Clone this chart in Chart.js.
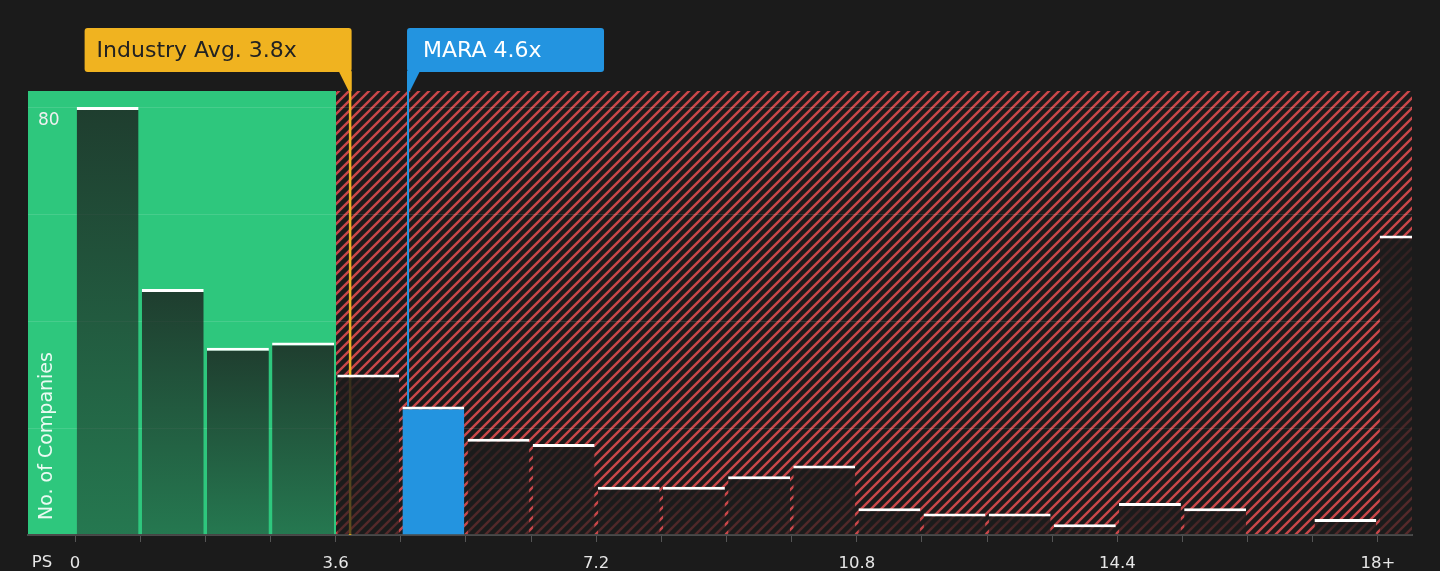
<!DOCTYPE html>
<html>
<head>
<meta charset="utf-8">
<script src="https://cdn.jsdelivr.net/npm/chart.js@4"></script>
<style>
html,body{margin:0;padding:0;background:#1b1b1b;overflow:hidden;}
#wrap{width:1440px;height:571px;position:relative;}
</style>
</head>
<body>
<div id="wrap"><canvas id="c"></canvas></div>
<script>
// ---- data ----
const binCenters = [0.45, 1.35, 2.25, 3.15, 4.05, 4.95, 5.85, 6.75, 7.65, 8.55, 9.45, 10.35, 11.25, 12.15, 13.05, 13.95, 14.85, 15.75, 16.65, 17.55, 18.45];
const companyCounts = [80, 46, 35, 36, 30, 24, 18, 17, 9, 9, 11, 13, 5, 4, 4, 2, 6, 5, 0, 3, 56];
const xTickValues = [0, 0.9, 1.8, 2.7, 3.6, 4.5, 5.4, 6.3, 7.2, 8.1, 9, 9.9, 10.8, 11.7, 12.6, 13.5, 14.4, 15.3, 16.2, 17.1, 18];
const xTickLabels = ['0', '', '', '', '3.6', '', '', '', '7.2', '', '', '', '10.8', '', '', '', '14.4', '', '', '', '18+'];
const yTickValues = [0, 20, 40, 60, 80];
const yTickLabels = ['', '', '', '', '80'];
const industryAvg = 3.8;
const industryLabel = 'Industry Avg. 3.8x';
const companyValue = 4.6;
const companyLabel = 'MARA 4.6x';
const companyBinIndex = 5;
const fairZoneEnd = 3.6;
const xMin = -0.65, xMax = 18.47, yMax = 83;

// ---- styles ----
const BG = '#1b1b1b';
const GREEN = '#2ec77d';
const HATCH = '#c9474a';
const ORANGE = '#f0b320';
const BLUE = '#2394e0';
const FONT = "'DejaVu Sans', sans-serif";

function hatchPattern(ctx) {
  const p = 10;
  const t = document.createElement('canvas');
  t.width = p; t.height = p;
  const c = t.getContext('2d');
  c.fillStyle = BG; c.fillRect(0, 0, p, p);
  c.strokeStyle = HATCH; c.lineWidth = 2.4;
  c.beginPath();
  c.moveTo(-1, p + 1); c.lineTo(p + 1, -1);
  c.moveTo(-2, 2); c.lineTo(2, -2);
  c.moveTo(p - 2, p + 2); c.lineTo(p + 2, p - 2);
  c.stroke();
  return ctx.createPattern(t, 'repeat');
}

function roundRect(ctx, x, y, w, h, r) {
  ctx.beginPath();
  ctx.moveTo(x + r, y);
  ctx.lineTo(x + w - r, y); ctx.quadraticCurveTo(x + w, y, x + w, y + r);
  ctx.lineTo(x + w, y + h - r); ctx.quadraticCurveTo(x + w, y + h, x + w - r, y + h);
  ctx.lineTo(x + r, y + h); ctx.quadraticCurveTo(x, y + h, x, y + h - r);
  ctx.lineTo(x, y + r); ctx.quadraticCurveTo(x, y, x + r, y);
  ctx.closePath();
}

const decor = {
  id: 'decor',
  beforeDraw(chart) {
    const { ctx, chartArea: a, scales: { x } } = chart;
    ctx.save();
    ctx.fillStyle = BG; ctx.fillRect(0, 0, chart.width, chart.height);
    const xs = Math.round(x.getPixelForValue(fairZoneEnd));
    ctx.fillStyle = GREEN;
    ctx.fillRect(a.left, a.top, xs - a.left, a.bottom - a.top);
    ctx.fillStyle = hatchPattern(ctx);
    ctx.fillRect(xs, a.top, a.right - xs, a.bottom - a.top);
    ctx.restore();
  },
  beforeDatasetsDraw(chart) {
    const { ctx, chartArea: a, scales: { x, y } } = chart;
    ctx.save();
    const ix = x.getPixelForValue(industryAvg);
    ctx.strokeStyle = ORANGE; ctx.lineWidth = 2.5;
    ctx.beginPath(); ctx.moveTo(ix, 72); ctx.lineTo(ix, a.bottom); ctx.stroke();
    const mx = x.getPixelForValue(companyValue);
    ctx.strokeStyle = BLUE; ctx.lineWidth = 2;
    ctx.beginPath(); ctx.moveTo(mx, 72); ctx.lineTo(mx, y.getPixelForValue(companyCounts[companyBinIndex])); ctx.stroke();
    ctx.restore();
  },
  afterDraw(chart) {
    const { ctx, chartArea: a, scales: { x } } = chart;
    ctx.save();
    // industry box
    const ix = x.getPixelForValue(industryAvg);
    const iRight = ix + 1.5, iW = 267, top = 28, h = 44;
    ctx.fillStyle = ORANGE;
    roundRect(ctx, iRight - iW, top, iW, h, 3); ctx.fill();
    ctx.beginPath();
    ctx.moveTo(iRight - 13, top + h - 1); ctx.lineTo(iRight, top + h - 1);
    ctx.lineTo(iRight, a.top); ctx.lineTo(iRight - 3, a.top); ctx.closePath(); ctx.fill();
    ctx.font = '22px ' + FONT; ctx.textBaseline = 'middle'; ctx.textAlign = 'left';
    ctx.fillStyle = '#222222';
    ctx.fillText(industryLabel, iRight - iW + 12, top + h / 2 + 1);
    // company box
    const mx = x.getPixelForValue(companyValue);
    const mLeft = mx - 1, mW = 197;
    ctx.fillStyle = BLUE;
    roundRect(ctx, mLeft, top, mW, h, 3); ctx.fill();
    ctx.beginPath();
    ctx.moveTo(mLeft, top + h - 1); ctx.lineTo(mLeft + 13, top + h - 1);
    ctx.lineTo(mLeft + 3, a.top); ctx.lineTo(mLeft, a.top); ctx.closePath(); ctx.fill();
    ctx.fillStyle = '#ffffff';
    ctx.fillText(companyLabel, mLeft + 16, top + h / 2 + 1);
    // PS label
    ctx.font = '16.5px ' + FONT; ctx.fillStyle = '#e6e6e6'; ctx.textAlign = 'center';
    ctx.fillText('PS', 42, 563);
    // y title
    ctx.translate(47, a.bottom - 15);
    ctx.rotate(-Math.PI / 2);
    ctx.font = '19px ' + FONT; ctx.fillStyle = 'rgba(255,255,255,0.9)'; ctx.textAlign = 'left';
    ctx.fillText('No. of Companies', 0, 0);
    ctx.restore();
  }
};

function barFill(ctx) {
  if (ctx.type !== 'data') return 'rgba(27,27,27,0.7)';
  if (ctx.dataIndex === companyBinIndex) return BLUE;
  const chart = ctx.chart;
  const ys = chart.scales.y;
  if (!ys || !chart.chartArea) return 'rgba(27,27,27,0.7)';
  const top = ys.getPixelForValue(companyCounts[ctx.dataIndex]);
  const bottom = ys.getPixelForValue(0);
  if (!(bottom - top > 1)) return 'rgba(27,27,27,0.7)';
  const inFair = binCenters[ctx.dataIndex] < fairZoneEnd;
  const g = chart.ctx.createLinearGradient(0, top, 0, bottom);
  g.addColorStop(0, inFair ? 'rgba(27,27,27,0.80)' : 'rgba(27,27,27,0.88)');
  g.addColorStop(1, inFair ? 'rgba(27,27,27,0.46)' : 'rgba(27,27,27,0.66)');
  return g;
}

new Chart(document.getElementById('c'), {
  type: 'bar',
  data: {
    datasets: [{
      data: binCenters.map((c, i) => ({ x: c, y: companyCounts[i] })),
      backgroundColor: barFill,
      borderColor: '#ffffff',
      borderWidth: { top: 3, left: 0, right: 0, bottom: 0 },
      borderSkipped: false,
      categoryPercentage: 1,
      barPercentage: 0.95
    }]
  },
  plugins: [decor],
  options: {
    responsive: true,
    maintainAspectRatio: false,
    animation: false,
    devicePixelRatio: 1,
    layout: { padding: { top: 91, left: 28, right: 28, bottom: 0 } },
    plugins: { legend: { display: false }, tooltip: { enabled: false } },
    scales: {
      x: {
        type: 'linear',
        min: xMin, max: xMax,
        offset: false,
        afterBuildTicks(scale) { scale.ticks = xTickValues.map(v => ({ value: v })); },
        afterFit(scale) { scale.height = 36; scale.paddingLeft = 0; scale.paddingRight = 0; },
        ticks: {
          autoSkip: false, maxRotation: 0, minRotation: 0,
          color: '#e6e6e6', padding: 13,
          font: { family: FONT, size: 16.5, lineHeight: 1 },
          callback: (v, i) => xTickLabels[i]
        },
        grid: { offset: false, drawOnChartArea: false, drawTicks: true, tickLength: 7, color: '#555555', lineWidth: 1 },
        border: { display: true, color: '#4a4a4a', width: 2 }
      },
      y: {
        min: 0, max: yMax,
        afterBuildTicks(scale) { scale.ticks = yTickValues.map(v => ({ value: v })); },
        afterFit(scale) { scale.width = 0; scale.paddingTop = 0; scale.paddingBottom = 0; },
        ticks: {
          mirror: true, padding: 10, labelOffset: 14,
          color: '#f0f0f0',
          font: { family: FONT, size: 17 },
          callback: (v, i) => yTickLabels[i]
        },
        grid: { drawTicks: false, color: 'rgba(255,255,255,0.12)', lineWidth: 1 },
        border: { display: false }
      }
    }
  }
});
</script>
</body>
</html>
